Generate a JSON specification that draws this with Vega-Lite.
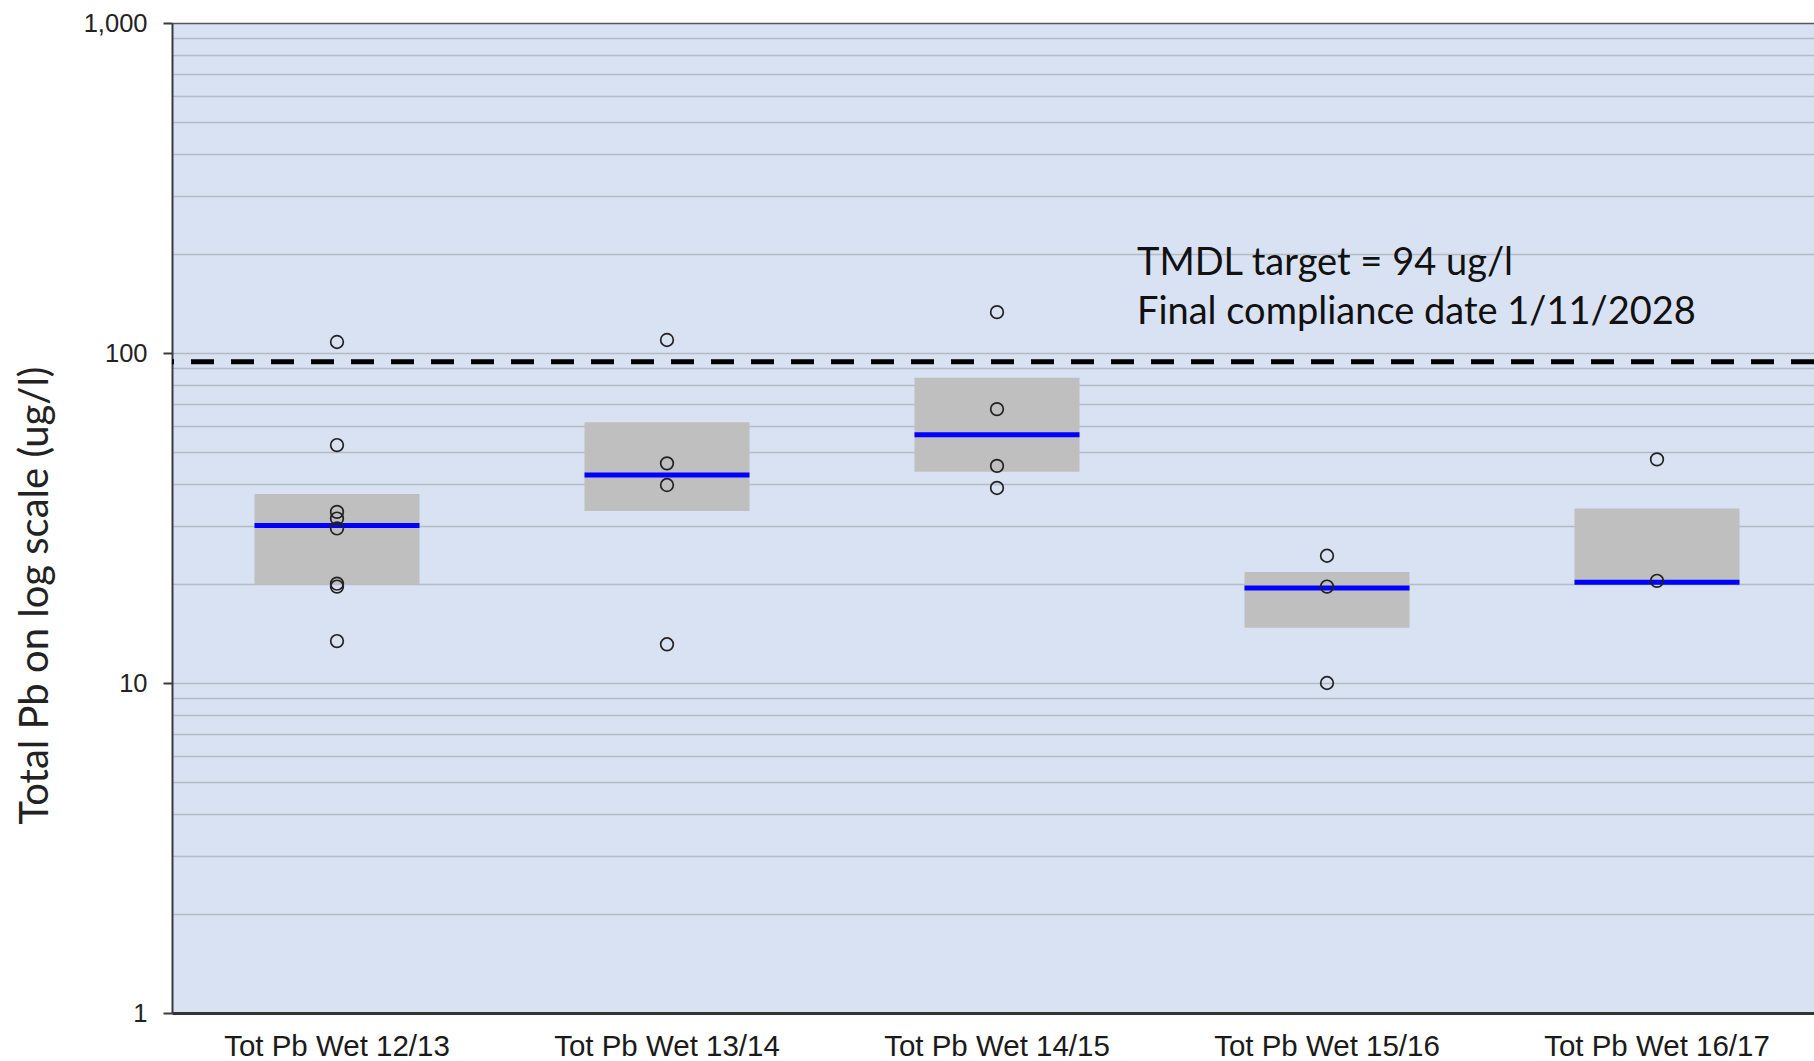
{
  "$schema": "https://vega.github.io/schema/vega-lite/v6.json",
  "width": 1642,
  "height": 990,
  "autosize": {"type": "none"},
  "padding": {"left": 172, "top": 23, "right": 0, "bottom": 48},
  "background": "white",
  "config": {"view": {"stroke": null, "fill": "#D9E2F3"}},
  "datasets": {
    "points": [
      {"cat": "Tot Pb Wet 12/13", "value": 108},
      {"cat": "Tot Pb Wet 12/13", "value": 52.6},
      {"cat": "Tot Pb Wet 12/13", "value": 33},
      {"cat": "Tot Pb Wet 12/13", "value": 31.5},
      {"cat": "Tot Pb Wet 12/13", "value": 29.4},
      {"cat": "Tot Pb Wet 12/13", "value": 20.0},
      {"cat": "Tot Pb Wet 12/13", "value": 19.6},
      {"cat": "Tot Pb Wet 12/13", "value": 13.4},
      {"cat": "Tot Pb Wet 13/14", "value": 109.5},
      {"cat": "Tot Pb Wet 13/14", "value": 46.3},
      {"cat": "Tot Pb Wet 13/14", "value": 39.8},
      {"cat": "Tot Pb Wet 13/14", "value": 13.1},
      {"cat": "Tot Pb Wet 14/15", "value": 133},
      {"cat": "Tot Pb Wet 14/15", "value": 67.6},
      {"cat": "Tot Pb Wet 14/15", "value": 45.5},
      {"cat": "Tot Pb Wet 14/15", "value": 39.0},
      {"cat": "Tot Pb Wet 15/16", "value": 24.3},
      {"cat": "Tot Pb Wet 15/16", "value": 19.6},
      {"cat": "Tot Pb Wet 15/16", "value": 10.0},
      {"cat": "Tot Pb Wet 16/17", "value": 47.6},
      {"cat": "Tot Pb Wet 16/17", "value": 20.4}
    ],
    "boxes": [
      {"cat": "Tot Pb Wet 12/13", "q1": 19.9, "q3": 37.4, "median": 30.0},
      {"cat": "Tot Pb Wet 13/14", "q1": 33.2, "q3": 61.7, "median": 42.7},
      {"cat": "Tot Pb Wet 14/15", "q1": 43.7, "q3": 84.2, "median": 56.5},
      {"cat": "Tot Pb Wet 15/16", "q1": 14.7, "q3": 21.7, "median": 19.4},
      {"cat": "Tot Pb Wet 16/17", "q1": 20.0, "q3": 33.8, "median": 20.2}
    ],
    "notes": [
      {"cat": "Tot Pb Wet 15/16", "value": 186.7, "label": "TMDL target = 94 ug/l"},
      {"cat": "Tot Pb Wet 15/16", "value": 131.8, "label": "Final compliance date 1/11/2028"}
    ],
    "target": [{"target": 94}]
  },
  "layer": [
    {
      "data": {"name": "boxes"},
      "mark": {"type": "bar", "color": "#BFBFBF", "width": {"band": 0.5}},
      "encoding": {
        "x": {
          "field": "cat", "type": "nominal", "sort": null,
          "scale": {"paddingInner": 0, "paddingOuter": 0, "range": [0, 1650]},
          "axis": {
            "title": null, "labelAngle": 0, "ticks": false, "grid": false,
            "domainColor": "#333333", "domainWidth": 3,
            "labelFont": "Liberation Sans", "labelFontSize": 29.5, "labelColor": "#1a1a1a",
            "labelPadding": 19, "labelLimit": 0
          }
        },
        "y": {
          "field": "q1", "type": "quantitative",
          "scale": {"type": "log", "domain": [1, 1000], "nice": false},
          "axis": {
            "values": [1,2,3,4,5,6,7,8,9,10,20,30,40,50,60,70,80,90,100,200,300,400,500,600,700,800,900,1000],
            "labelExpr": "(datum.value==1||datum.value==10||datum.value==100||datum.value==1000) ? format(datum.value, ',') : ''",
            "labelOverlap": false,
            "labelBound": false,
            "tickOpacity": {"condition": {"test": "datum.value==1||datum.value==10||datum.value==100||datum.value==1000", "value": 1}, "value": 0},
            "grid": true,
            "gridColor": {"condition": {"test": "datum.value==1000", "value": "#595959"}, "value": "#B5BAC4"},
            "gridWidth": 1.5,
            "tickSize": 9, "tickColor": "#3a3a3a", "tickWidth": 2,
            "domainColor": "#3a3a3a", "domainWidth": 2,
            "labelFont": "Liberation Sans", "labelFontSize": 25.5, "labelColor": "#222222", "labelPadding": 16,
            "title": "Total Pb on log scale (ug/l)",
            "titleFont": "Lato", "titleFontSize": 40, "titleFontWeight": "normal", "titleColor": "#222222",
            "titleX": -137, "titleY": 572, "titleAngle": 270, "titleAlign": "center", "titleBaseline": "middle"
          }
        },
        "y2": {"field": "q3"}
      }
    },
    {
      "data": {"name": "boxes"},
      "mark": {"type": "tick", "color": "#0000FF", "thickness": 5, "size": 165, "opacity": 1},
      "encoding": {
        "x": {"field": "cat", "type": "nominal", "sort": null},
        "y": {"field": "median", "type": "quantitative"}
      }
    },
    {
      "data": {"name": "target"},
      "mark": {"type": "rule", "color": "#000000", "strokeWidth": 5, "strokeDash": [23, 17]},
      "encoding": {"y": {"field": "target", "type": "quantitative"}}
    },
    {
      "data": {"name": "points"},
      "mark": {"type": "point", "shape": "circle", "filled": false, "color": "#222222", "strokeWidth": 1.7, "size": 160, "opacity": 1},
      "encoding": {
        "x": {"field": "cat", "type": "nominal", "sort": null},
        "y": {"field": "value", "type": "quantitative"}
      }
    },
    {
      "data": {"name": "notes"},
      "mark": {"type": "text", "align": "left", "baseline": "middle", "dx": -190, "font": "Lato", "fontSize": 38, "color": "#111111"},
      "encoding": {
        "x": {"field": "cat", "type": "nominal", "sort": null},
        "y": {"field": "value", "type": "quantitative"},
        "text": {"field": "label"}
      }
    }
  ]
}
